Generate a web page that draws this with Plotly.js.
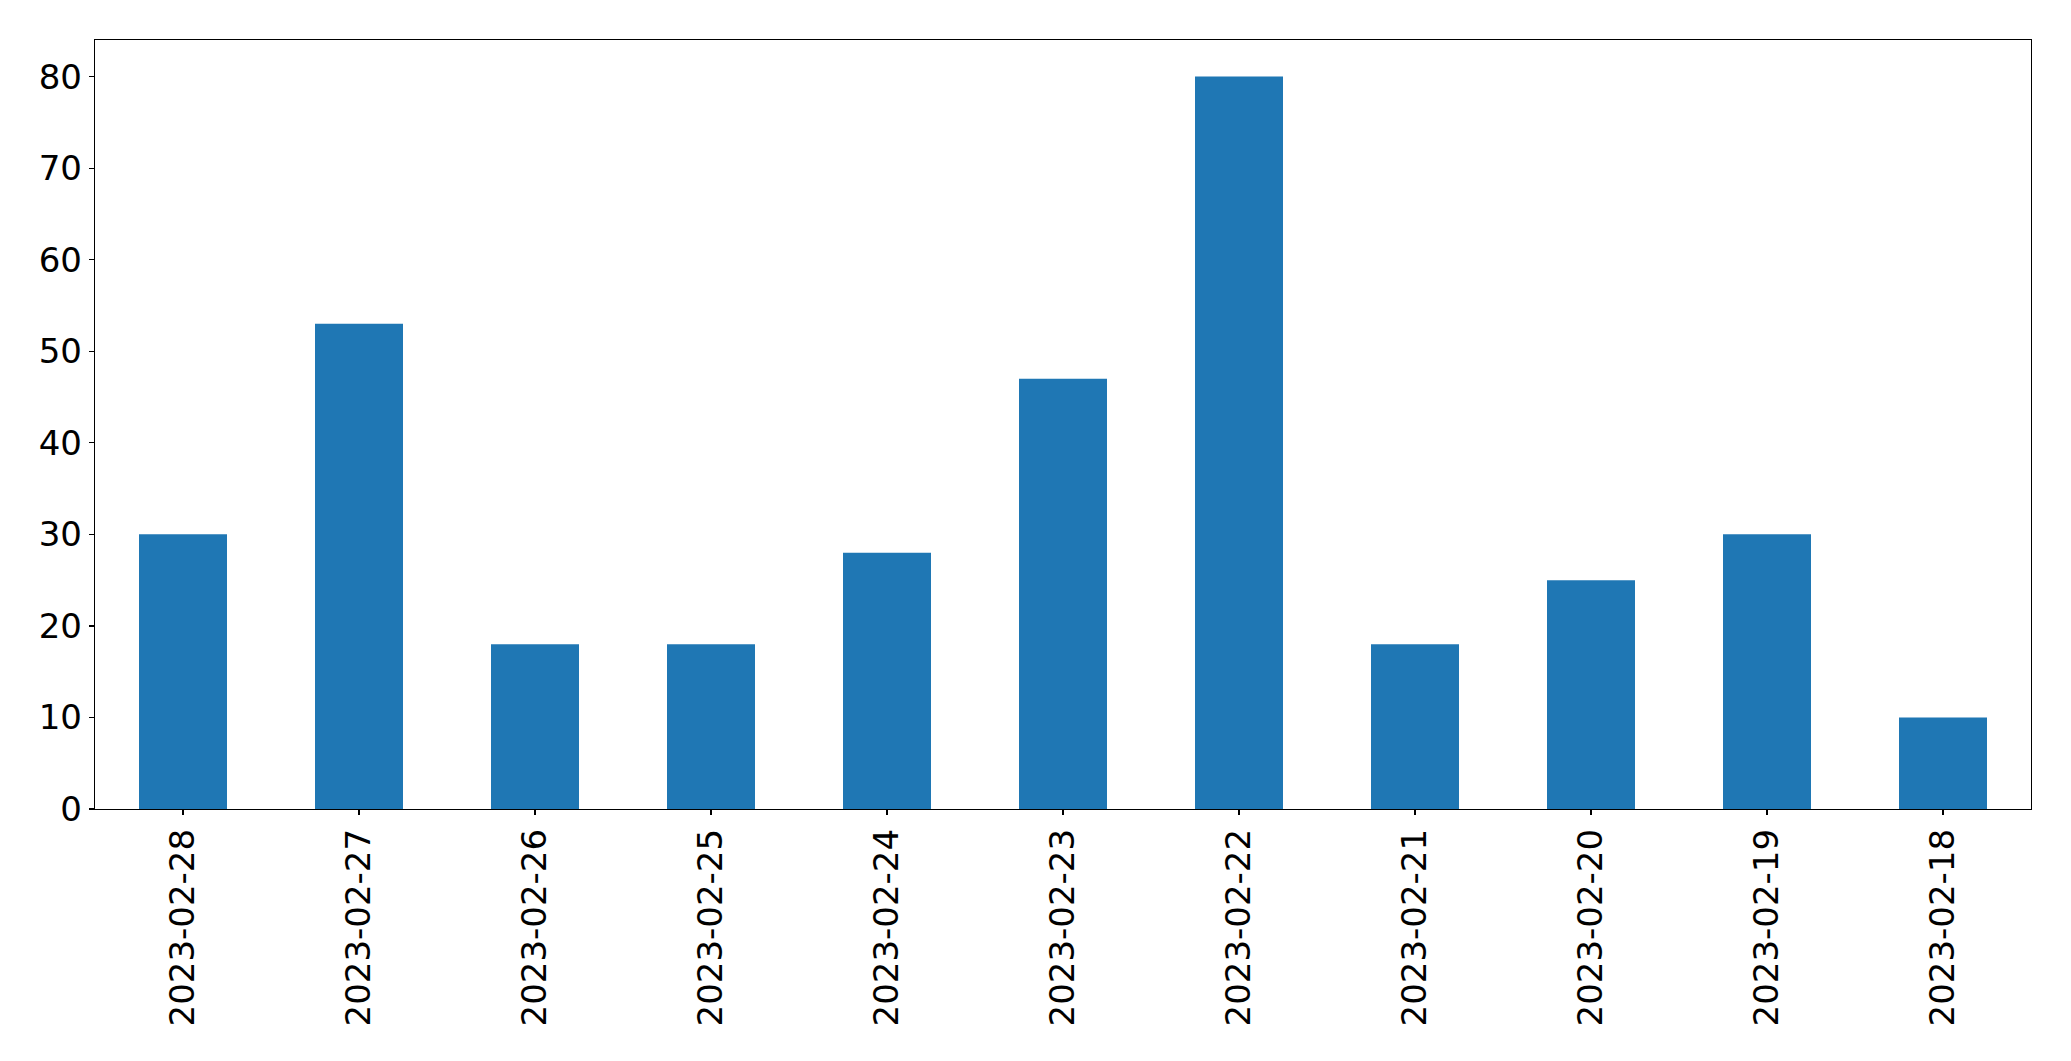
<!DOCTYPE html>
<html>
<head>
<meta charset="utf-8">
<script src="https://cdn.plot.ly/plotly-3.0.1.min.js"></script>
<style>
html,body{margin:0;padding:0;background:#fff;}
#chart{width:2071px;height:1061px;}
</style>
</head>
<body>
<div id="chart"></div>
<script>
const dates = ["2023-02-28","2023-02-27","2023-02-26","2023-02-25","2023-02-24","2023-02-23","2023-02-22","2023-02-21","2023-02-20","2023-02-19","2023-02-18"];
const counts = [30, 53, 18, 18, 28, 47, 80, 18, 25, 30, 10];
const yTicks = [0, 10, 20, 30, 40, 50, 60, 70, 80];

const trace = {
  type: "bar",
  x: dates,
  y: counts,
  marker: {color: "#1f77b4", line: {width: 0}},
  hoverinfo: "x+y"
};

const layout = {
  width: 2071,
  height: 1061,
  margin: {l: 94.5, r: 40, t: 39.5, b: 252, pad: 0},
  paper_bgcolor: "#ffffff",
  plot_bgcolor: "#ffffff",
  font: {family: "DejaVu Sans", size: 34, color: "#000000"},
  bargap: 0.5,
  showlegend: false,
  xaxis: {
    type: "category",
    range: [-0.5, 10.5],
    autorange: false,
    tickangle: -90,
    ticks: "outside",
    ticklen: 5,
    tickwidth: 1.3,
    tickcolor: "#000",
    showline: true,
    linecolor: "#000",
    linewidth: 1.3,
    mirror: true,
    showgrid: false,
    zeroline: false,
    tickfont: {family: "DejaVu Sans", size: 34, color: "#000"}
  },
  yaxis: {
    range: [0, 84],
    autorange: false,
    tickvals: yTicks,
    ticktext: yTicks.map(String),
    ticks: "outside",
    ticklen: 5,
    tickwidth: 1.3,
    tickcolor: "#000",
    showline: true,
    linecolor: "#000",
    linewidth: 1.3,
    mirror: true,
    showgrid: false,
    zeroline: false,
    tickfont: {family: "DejaVu Sans", size: 34, color: "#000"}
  }
};

Plotly.newPlot("chart", [trace], layout, {displayModeBar: false, staticPlot: true});
</script>
</body>
</html>
